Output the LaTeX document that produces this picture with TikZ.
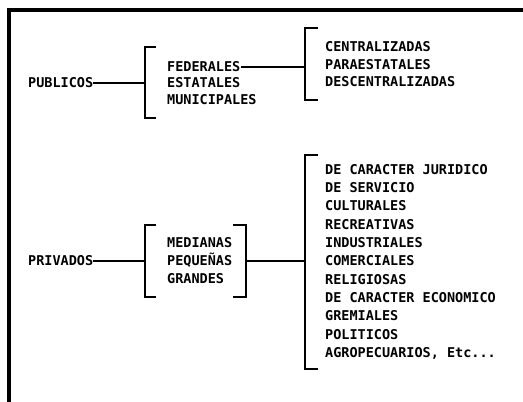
\documentclass[tikz,border=0pt]{standalone}
\usepackage{fontspec}
\setmonofont{DejaVu Sans Mono}
\newlength{\du}
\setlength{\du}{1pt}
\tikzset{
  rotulo/.style={anchor=west, inner sep=0pt, font=\ttfamily\bfseries\fontsize{13.5}{17}\selectfont, text height=9.8\du, text depth=0pt},
  trazo/.style={line width=1.5\du, line join=miter},
  marco/.style={line width=4\du, line join=miter}
}
\begin{document}
\begin{tikzpicture}
\pgftransformxscale{1.000000}
\pgftransformyscale{-1.000000}
\useasboundingbox (0\du,0\du) rectangle (523\du,402\du);
% marco de la hoja
\draw[marco] (9.000000\du,402.000000\du)--(9.000000\du,10.000000\du)--(523.000000\du,10.000000\du);
% publicos
\node[rotulo] (publicos) at (28.000000\du,83.000000\du){PUBLICOS};
\coordinate (llaveA) at (145.000000\du,83.000000\du);
\draw[trazo] (publicos.east)--(llaveA);
\draw[trazo] (156.000000\du,47.000000\du)--(145.000000\du,47.000000\du)--(145.000000\du,118.000000\du)--(156.000000\du,118.000000\du);
\node[rotulo] (federales) at (167.000000\du,67.000000\du){FEDERALES};
\node[rotulo] (estatales) at (167.000000\du,83.000000\du){ESTATALES};
\node[rotulo] (municipales) at (167.000000\du,100.000000\du){MUNICIPALES};
\coordinate (llaveB) at (305.000000\du,67.000000\du);
\draw[trazo] (federales.east)--(llaveB);
\draw[trazo] (318.000000\du,28.000000\du)--(305.000000\du,28.000000\du)--(305.000000\du,100.000000\du)--(318.000000\du,100.000000\du);
\node[rotulo] (centralizadas) at (325.000000\du,47.000000\du){CENTRALIZADAS};
\node[rotulo] (paraestatales) at (325.000000\du,65.000000\du){PARAESTATALES};
\node[rotulo] (descentralizadas) at (325.000000\du,82.000000\du){DESCENTRALIZADAS};
% privados
\node[rotulo] (privados) at (28.000000\du,261.000000\du){PRIVADOS};
\coordinate (llaveC) at (145.000000\du,261.000000\du);
\draw[trazo] (privados.east)--(llaveC);
\draw[trazo] (156.000000\du,225.000000\du)--(145.000000\du,225.000000\du)--(145.000000\du,297.000000\du)--(156.000000\du,297.000000\du);
\node[rotulo] (medianas) at (167.000000\du,243.000000\du){MEDIANAS};
\node[rotulo] (pequenas) at (167.000000\du,261.000000\du){PEQUEÑAS};
\node[rotulo] (grandes) at (167.000000\du,279.000000\du){GRANDES};
\draw[trazo] (233.000000\du,225.000000\du)--(246.000000\du,225.000000\du)--(246.000000\du,297.000000\du)--(233.000000\du,297.000000\du);
\coordinate (llaveD) at (246.000000\du,261.000000\du);
\coordinate (llaveE) at (305.000000\du,261.000000\du);
\draw[trazo] (llaveD)--(llaveE);
\draw[trazo] (318.000000\du,155.000000\du)--(305.000000\du,155.000000\du)--(305.000000\du,369.000000\du)--(318.000000\du,369.000000\du);
\node[rotulo] (juridico) at (325.000000\du,170.000000\du){DE CARACTER JURIDICO};
\node[rotulo] (servicio) at (325.000000\du,188.000000\du){DE SERVICIO};
\node[rotulo] (culturales) at (325.000000\du,206.000000\du){CULTURALES};
\node[rotulo] (recreativas) at (325.000000\du,225.000000\du){RECREATIVAS};
\node[rotulo] (industriales) at (325.000000\du,243.000000\du){INDUSTRIALES};
\node[rotulo] (comerciales) at (325.000000\du,261.000000\du){COMERCIALES};
\node[rotulo] (religiosas) at (325.000000\du,280.000000\du){RELIGIOSAS};
\node[rotulo] (economico) at (325.000000\du,298.000000\du){DE CARACTER ECONOMICO};
\node[rotulo] (gremiales) at (325.000000\du,316.000000\du){GREMIALES};
\node[rotulo] (politicos) at (325.000000\du,335.000000\du){POLITICOS};
\node[rotulo] (agropecuarios) at (325.000000\du,353.000000\du){AGROPECUARIOS, Etc...};
\end{tikzpicture}
\end{document}
